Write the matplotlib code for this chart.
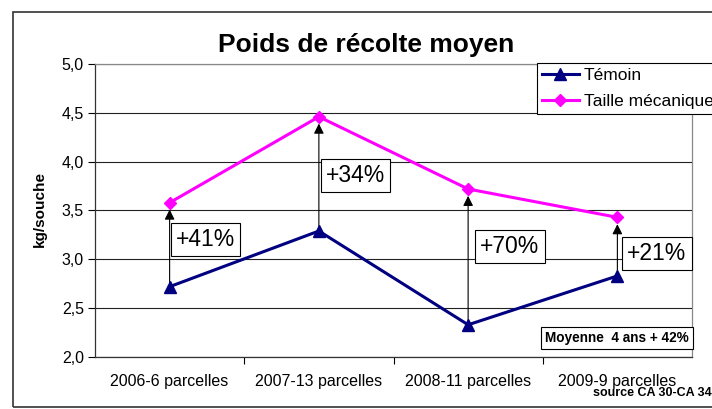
import matplotlib
matplotlib.use("Agg")
import matplotlib.pyplot as plt
from matplotlib.patches import Rectangle
from matplotlib.ticker import FixedLocator, FuncFormatter

plt.rcParams["font.family"] = ["Liberation Sans", "DejaVu Sans"]

# data
categories = ["2006-6 parcelles", "2007-13 parcelles", "2008-11 parcelles", "2009-9 parcelles"]
temoin = [2.72, 3.29, 2.33, 2.83]
taille = [3.58, 4.46, 3.72, 3.43]
gain_labels = ["+41%", "+34%", "+70%", "+21%"]

NAVY = "#000080"
MAGENTA = "#FF00FF"

fig = plt.figure(figsize=(7.12, 4.09), dpi=100)
ax = fig.add_axes([95 / 712, 52 / 409, 597 / 712, 293 / 409])

x = list(range(len(categories)))

ax.plot(x, temoin, color=NAVY, lw=2.2, marker="^", markersize=9, label="Témoin", zorder=4)
ax.plot(x, taille, color=MAGENTA, lw=2.2, marker="D", markersize=6.5, label="Taille mécanique", zorder=4)

# arrows from Témoin up to Taille
for i in x:
    ax.annotate("", xy=(i, taille[i] - 0.07), xytext=(i, temoin[i]),
                arrowprops=dict(arrowstyle="-|>", color="black", lw=0.8,
                                mutation_scale=15, shrinkA=0, shrinkB=0),
                zorder=3)

# gain label boxes (layout positions)
label_pos = [(0.24, 3.20), (1.245, 3.86), (2.28, 3.13), (3.265, 3.06)]
for (lx, ly), txt in zip(label_pos, gain_labels):
    ax.text(lx, ly, txt, fontsize=16.5, ha="center", va="center", zorder=5,
            bbox=dict(boxstyle="square,pad=0.22", fc="white", ec="black", lw=0.8))

ax.set_xlim(-0.5, len(categories) - 0.5)
ax.set_ylim(2.0, 5.0)
ax.set_yticks([2.0, 2.5, 3.0, 3.5, 4.0, 4.5, 5.0])
ax.yaxis.set_major_formatter(FuncFormatter(lambda v, p: f"{v:.1f}".replace(".", ",")))
ax.set_xticks(x)
ax.set_xticklabels(categories)
ax.xaxis.set_minor_locator(FixedLocator([0.5, 1.5, 2.5]))
ax.tick_params(axis="x", which="major", length=0, pad=12, labelsize=11.5)
ax.tick_params(axis="x", which="minor", length=5, width=0.8, direction="out")
ax.tick_params(axis="y", length=5, width=0.8, direction="out", pad=3, labelsize=11.5)

ax.grid(axis="y", color="#222222", lw=0.8)
ax.set_axisbelow(True)
for side in ["left", "bottom"]:
    ax.spines[side].set_color("#333333")
    ax.spines[side].set_linewidth(0.9)
for side in ["right", "top"]:
    ax.spines[side].set_color("#888888")
    ax.spines[side].set_linewidth(0.9)

ax.text(0.9945, 0.065, "Moyenne  4 ans + 42%", transform=ax.transAxes, fontsize=9.8,
        fontweight="bold", ha="right", va="center", zorder=6,
        bbox=dict(boxstyle="square,pad=0.3", fc="white", ec="black", lw=0.8))

fig.text(366 / 712, 1 - 45 / 409, "Poids de récolte moyen", fontsize=19,
         fontweight="bold", ha="center", va="center")
fig.text(40 / 712, 1 - 209 / 409, "kg/souche", fontsize=11, fontweight="bold",
         rotation=90, ha="center", va="center")
fig.text(593 / 712, 1 - 393 / 409, "source CA 30-CA 34", fontsize=9,
         fontweight="bold", ha="left", va="center")

leg = fig.legend(loc="upper left", bbox_to_anchor=(537 / 712, 1 - 63 / 409),
                 borderaxespad=0, fontsize=12.5, frameon=True, fancybox=False,
                 handlelength=2.1, handletextpad=0.3, labelspacing=0.6,
                 borderpad=0.3)
leg.get_frame().set_edgecolor("black")
leg.get_frame().set_linewidth(0.8)
leg.get_frame().set_alpha(1)

# outer chart border
fig.patches.append(Rectangle((13 / 712, 2 / 409), 1.0, 395 / 409,
                             transform=fig.transFigure, fill=False,
                             ec="#333333", lw=1.2, clip_on=False))

fig.savefig("out.png", dpi=100)
